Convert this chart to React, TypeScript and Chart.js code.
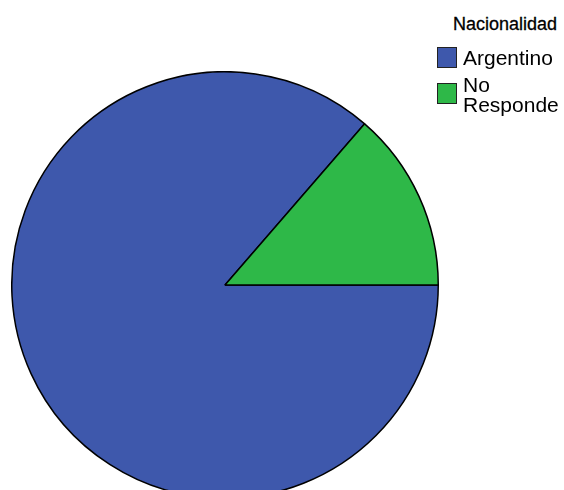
import React, { useEffect, useRef } from "react";
import { Chart, registerables } from "chart.js";

Chart.register(...registerables);

const legendTitle = "Nacionalidad";
const categories = ["Argentino", "No Responde"];
const values = [19, 3];
const colors = ["#3E58AC", "#2EB848"];

export default function App() {
  const ref = useRef<HTMLCanvasElement | null>(null);

  useEffect(() => {
    if (!ref.current) return;
    const chart = new Chart(ref.current, {
      type: "pie",
      data: {
        labels: categories,
        datasets: [
          {
            data: values,
            backgroundColor: colors,
            borderColor: "#000000",
            borderWidth: 1.5,
          },
        ],
      },
      options: {
        responsive: false,
        animation: false,
        rotation: 90,
        layout: { padding: 0 },
        plugins: {
          legend: { display: false },
          tooltip: { enabled: false },
        },
      },
    });
    return () => chart.destroy();
  }, []);

  const font = '"Liberation Sans", Arial, sans-serif';

  return (
    <div style={{ position: "absolute", left: 0, top: 0, width: 564, height: 490, background: "#fff", overflow: "hidden" }}>
      <div style={{ position: "absolute", left: 10.5, top: 70.5, width: 428, height: 428 }}>
        <canvas ref={ref} width={428} height={428} style={{ width: 428, height: 428, display: "block" }} />
      </div>
      <div
        style={{
          position: "absolute",
          left: 453,
          top: 15,
          fontFamily: font,
          fontSize: 18,
          lineHeight: "18px",
          color: "#000",
          whiteSpace: "nowrap",
          WebkitTextStroke: "0.3px #000",
        }}
      >
        {legendTitle}
      </div>
      {categories.map((c, i) => (
        <div key={c} style={{ position: "absolute", left: 437, top: i === 0 ? 47 : 83 }}>
          <div
            style={{
              position: "absolute",
              left: 0,
              top: 0,
              width: 18,
              height: 19,
              background: colors[i],
              border: "1px solid #222",
            }}
          />
        </div>
      ))}
      {categories.map((c, i) => (
        <div
          key={c + "t"}
          style={{
            position: "absolute",
            left: 463,
            top: i === 0 ? 48.2 : 75,
            width: 100,
            fontFamily: font,
            fontSize: 21,
            lineHeight: "20px",
            color: "#000",
          }}
        >
          {c}
        </div>
      ))}
    </div>
  );
}
